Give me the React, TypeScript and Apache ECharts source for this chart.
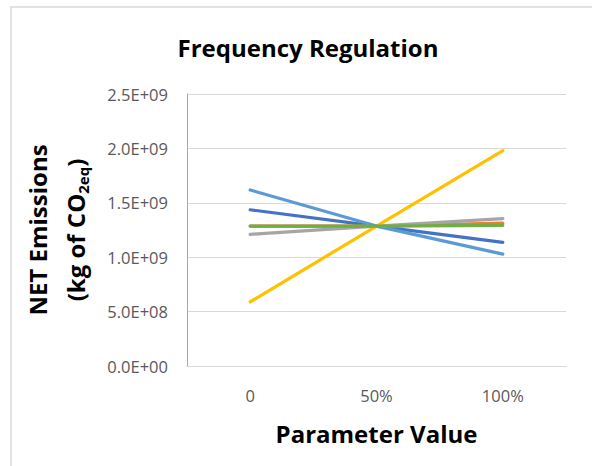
import React, { useEffect, useRef } from "react";
import * as echarts from "echarts";

const categories = ["0", "50%", "100%"];
const yTicks = [0, 5e8, 1e9, 1.5e9, 2e9, 2.5e9];
const seriesNames = ["Series 1", "Series 2", "Series 3", "Series 4", "Series 5", "Series 6"];
const seriesColors = ["#4472C4", "#ED7D31", "#A5A5A5", "#FFC000", "#5B9BD5", "#70AD47"];
const s1 = [1.436e9, 1.286e9, 1.136e9];
const s2 = [1.286e9, 1.286e9, 1.314e9];
const s3 = [1.21e9, 1.286e9, 1.354e9];
const s4 = [5.89e8, 1.286e9, 1.98e9];
const s5 = [1.618e9, 1.286e9, 1.028e9];
const s6 = [1.286e9, 1.286e9, 1.293e9];
const seriesData = [s1, s2, s3, s4, s5, s6];

const FONT = "'Open Sans', Lato, sans-serif";

function fmtSci(v: number): string {
  if (v === 0) return "0.0E+00";
  const exp = Math.floor(Math.log10(Math.abs(v)));
  const mant = v / Math.pow(10, exp);
  const sign = exp >= 0 ? "+" : "-";
  return mant.toFixed(1) + "E" + sign + String(Math.abs(exp)).padStart(2, "0");
}

export default function App() {
  const ref = useRef<HTMLDivElement>(null);
  useEffect(() => {
    document.body.style.margin = "0";
    if (!ref.current) return;
    const chart = echarts.init(ref.current, null, { renderer: "svg" });
    chart.setOption({
      animation: false,
      backgroundColor: "#ffffff",
      textStyle: { fontFamily: FONT },
      title: {
        text: "Frequency Regulation",
        left: 303,
        textAlign: "center",
        top: 30,
        textStyle: { fontFamily: FONT, fontSize: 24, fontWeight: "bold", color: "#000000" },
      },
      grid: { left: 187, right: 26, top: 94, bottom: 100, containLabel: false },
      xAxis: {
        type: "category",
        data: categories,
        boundaryGap: true,
        axisLine: { show: true, lineStyle: { color: "#D9D9D9", width: 1 } },
        axisTick: { show: false },
        axisLabel: { color: "#595959", fontSize: 16.5, fontFamily: FONT, margin: 21 },
        splitLine: { show: false },
        name: "Parameter Value",
        nameLocation: "middle",
        nameGap: 55,
        nameTextStyle: { fontFamily: FONT, fontSize: 24, fontWeight: "bold", color: "#000000" },
      },
      yAxis: {
        type: "value",
        min: yTicks[0],
        max: yTicks[yTicks.length - 1],
        interval: yTicks[1] - yTicks[0],
        axisLine: { show: true, lineStyle: { color: "#A6A6A6", width: 1 } },
        axisTick: { show: false },
        axisLabel: {
          color: "#595959",
          fontSize: 16.5,
          fontFamily: FONT,
          margin: 19,
          formatter: (v: number) => fmtSci(v),
        },
        splitLine: { show: true, lineStyle: { color: "#D9D9D9", width: 1 } },
      },
      series: seriesData.map((d, i) => ({
        name: seriesNames[i],
        type: "line",
        data: d,
        symbol: "none",
        lineStyle: { color: seriesColors[i], width: 3.2, cap: "round" },
        itemStyle: { color: seriesColors[i] },
        z: 2 + i,
      })),
      graphic: [
        {
          type: "rect",
          shape: { x: 11, y: 7, width: 700, height: 700 },
          style: { fill: "none", stroke: "#D9D9D9", lineWidth: 1.5 },
          silent: true,
        },
        {
          type: "text",
          x: 37,
          y: 230,
          rotation: Math.PI / 2,
          style: {
            text: "NET Emissions",
            fontFamily: FONT,
            fontSize: 24,
            fontWeight: "bold",
            fill: "#000000",
            align: "center",
            verticalAlign: "middle",
          },
        },
        {
          type: "text",
          x: 75,
          y: 230,
          rotation: Math.PI / 2,
          style: {
            text: "{a|(kg of CO}{s|2eq}{a|)}",
            align: "center",
            verticalAlign: "middle",
            rich: {
              a: { fontFamily: FONT, fontSize: 24, fontWeight: "bold", fill: "#000000", lineHeight: 30, verticalAlign: "middle" },
              s: { fontFamily: FONT, fontSize: 15, fontWeight: "bold", fill: "#000000", lineHeight: 30, verticalAlign: "bottom", padding: [12, 0, 0, 0] },
            },
          },
        },
      ],
    });
    return () => chart.dispose();
  }, []);
  return <div ref={ref} style={{ width: 592, height: 466 }} />;
}
